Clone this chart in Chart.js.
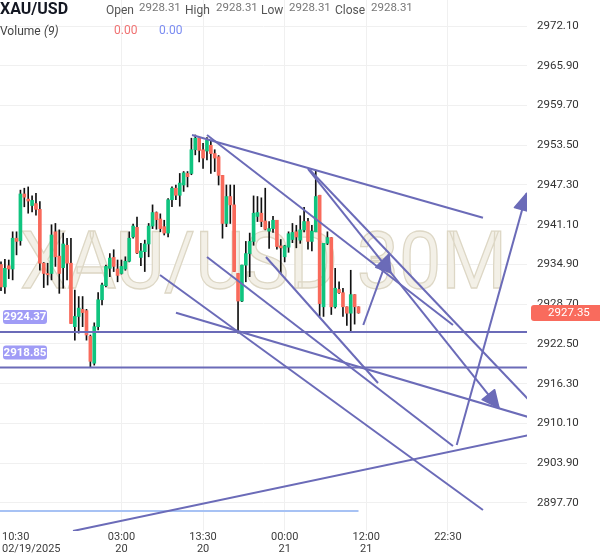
<!DOCTYPE html>
<html><head><meta charset="utf-8">
<script src="https://cdn.jsdelivr.net/npm/chart.js@4.4.1/dist/chart.umd.min.js"></script>
<style>html,body{margin:0;padding:0;background:#fff;}</style>
</head><body>
<canvas id="c" width="600" height="558"></canvas>
<script>
// ---- data (30-minute XAU/USD candles, bar index 0..92) ----
const opens  = [2934.9,2931.4,2934.7,2934.2,2939.0,2938.6,2945.9,2945.1,2944.1,2944.4,2943.5,2935.1,2933.5,2933.5,2940.0,2936.2,2934.4,2937.9,2935.1,2925.2,2926.8,2927.9,2927.7,2923.7,2919.5,2925.2,2929.4,2931.6,2934.3,2936.0,2934.2,2933.5,2934.2,2935.4,2939.2,2940.7,2936.0,2936.9,2938.1,2940.9,2943.0,2942.0,2940.8,2939.8,2945.0,2946.8,2945.7,2947.3,2949.1,2949.1,2952.8,2954.6,2952.8,2952.6,2953.5,2952.2,2951.7,2948.8,2941.3,2945.5,2944.2,2933.5,2929.2,2934.8,2936.6,2938.5,2942.4,2942.9,2941.7,2940.1,2940.5,2941.8,2937.8,2936.1,2937.6,2938.8,2940.0,2938.7,2940.3,2941.6,2938.5,2940.0,2945.7,2928.3,2938.2,2939.1,2928.3,2931.0,2930.5,2928.3,2927.3,2930.2,2928.3];
const highs  = [2935.3,2935.7,2935.6,2940.0,2940.0,2946.5,2946.8,2947.0,2945.6,2946.0,2944.7,2935.2,2935.1,2941.1,2941.3,2940.3,2939.8,2939.0,2939.0,2930.9,2929.9,2929.9,2927.9,2923.9,2925.8,2930.5,2932.0,2934.8,2936.6,2937.2,2935.6,2935.6,2936.1,2940.0,2941.2,2942.3,2938.2,2938.7,2941.3,2944.2,2943.1,2942.8,2941.8,2945.2,2947.0,2947.3,2949.1,2949.4,2949.4,2954.6,2955.1,2954.6,2953.8,2954.7,2954.1,2952.8,2951.9,2948.8,2947.3,2947.3,2947.3,2933.5,2934.8,2938.5,2939.8,2945.6,2945.5,2945.3,2946.8,2941.6,2942.4,2941.8,2938.8,2937.9,2940.0,2941.3,2941.0,2942.5,2943.8,2942.1,2941.0,2949.6,2945.7,2938.2,2940.0,2939.1,2934.3,2932.2,2931.2,2928.3,2934.0,2930.2,2928.3];
const lows   = [2930.8,2930.4,2932.7,2932.5,2936.4,2937.9,2943.9,2942.9,2943.1,2942.6,2934.0,2931.3,2931.7,2932.5,2934.6,2930.4,2931.2,2932.5,2925.7,2923.1,2924.2,2925.2,2923.1,2918.8,2919.2,2924.7,2928.6,2931.4,2933.0,2933.8,2932.2,2933.4,2934.0,2935.3,2939.0,2936.6,2934.7,2933.8,2936.1,2940.5,2940.4,2940.0,2939.5,2939.2,2943.9,2945.0,2944.0,2946.3,2947.0,2948.9,2952.0,2950.9,2949.9,2951.2,2949.1,2949.4,2947.3,2939.0,2940.8,2941.3,2933.8,2924.2,2929.1,2932.2,2933.0,2937.9,2941.6,2940.8,2940.3,2937.4,2939.9,2937.3,2933.5,2935.3,2936.8,2938.3,2937.5,2938.2,2940.0,2937.3,2937.0,2940.0,2926.8,2926.8,2938.0,2927.1,2928.1,2930.4,2926.8,2925.4,2924.4,2925.6,2927.3];
const closes = [2931.4,2934.3,2934.2,2939.0,2938.5,2945.9,2945.4,2944.8,2944.9,2943.5,2935.1,2933.5,2933.3,2939.5,2936.1,2933.5,2938.1,2935.1,2925.7,2926.8,2928.1,2927.4,2923.9,2919.8,2925.2,2929.4,2931.7,2934.6,2935.9,2934.6,2933.2,2934.6,2935.4,2939.0,2940.9,2936.7,2937.0,2938.1,2940.9,2943.0,2941.9,2940.5,2939.8,2945.0,2946.8,2945.7,2947.6,2949.2,2948.6,2952.8,2954.6,2952.7,2951.5,2954.3,2952.2,2951.5,2948.8,2941.3,2945.5,2944.2,2933.8,2929.2,2934.8,2936.6,2938.5,2942.9,2943.0,2941.6,2940.4,2940.5,2941.8,2937.7,2937.5,2937.8,2939.7,2939.9,2939.2,2940.3,2941.6,2938.5,2940.1,2945.5,2928.8,2938.2,2939.1,2928.3,2931.2,2930.5,2928.3,2927.3,2930.2,2928.3,2927.35];

const priceTicks = [2897.70,2903.90,2910.10,2916.30,2922.50,2928.70,2934.90,2941.10,2947.30,2953.50,2959.70,2965.90,2972.10];
const timeTickIndex  = [-2, 31, 52, 73, 94, 115];
const timeTickTop    = ['10:30','03:00','13:30','00:00','12:00','22:30'];
const timeTickBottom = ['02/19/2025','20','20','21','21',''];

const levelPrices = [2924.37, 2918.85];
const baselinePrice = 2896.45;
const lastPrice = 2927.35;
const headerValues = ['2928.31','2928.31','2928.31','2928.31'];

// drawn trend lines: [startIndex, startPrice, endIndex, endPrice, hasArrow]
const trendLines = [
  [49.15, 2955.10, 124.03, 2942.20, 0],
  [53.01, 2955.10, 116.31, 2925.46, 0],
  [79.50, 2949.64, 137.00, 2913.04, 0],
  [79.00, 2949.80, 128.15, 2912.52, 1],
  [40.92, 2933.26, 124.03, 2896.61, 0],
  [45.03, 2927.38, 137.00, 2910.87, 0],
  [53.01, 2936.07, 116.31, 2906.59, 0],
  [68.19, 2936.07, 97.02, 2916.41, 0],
  [18.53, 2893.33, 137.00, 2908.42, 0],
  [117.27, 2906.75, 135.28, 2946.01, 1],
  [93.23, 2925.46, 99.85, 2936.54, 1]
];

const UP = '#0fc47f', DOWN = '#f96a5b', LINE = '#6b6bb8';
const FONT = 'Roboto, "Liberation Sans", sans-serif';

const idx = opens.map((_, i) => i);
const datasets = [];
datasets.push({
  type: 'bar', order: 3, grouped: false, barThickness: 1,
  data: idx.map(i => ({x: i, y: [lows[i], highs[i]]})),
  backgroundColor: '#111', borderWidth: 0
});
datasets.push({
  type: 'bar', order: 2, grouped: false, barThickness: 3, minBarLength: 1,
  data: idx.map(i => ({x: i, y: [opens[i], closes[i]]})),
  backgroundColor: idx.map(i => closes[i] >= opens[i] ? UP : DOWN), borderWidth: 0
});
levelPrices.forEach(p => datasets.push({
  type: 'line', order: 1, data: [{x: -1, y: p}, {x: 137, y: p}],
  borderColor: LINE, borderWidth: 2, pointRadius: 0, fill: false
}));
datasets.push({
  type: 'line', order: 1, data: [{x: -1, y: baselinePrice}, {x: opens.length - 1, y: baselinePrice}],
  borderColor: '#a7c2f4', borderWidth: 2, pointRadius: 0, fill: false
});
trendLines.forEach(t => datasets.push({
  type: 'line', order: 0, data: [{x: t[0], y: t[1]}, {x: t[2], y: t[3]}],
  borderColor: LINE, borderWidth: 2, pointRadius: 0, fill: false
}));

function rr(ctx, x, y, w, h, r) {
  ctx.beginPath();
  ctx.moveTo(x + r, y); ctx.lineTo(x + w - r, y); ctx.quadraticCurveTo(x + w, y, x + w, y + r);
  ctx.lineTo(x + w, y + h - r); ctx.quadraticCurveTo(x + w, y + h, x + w - r, y + h);
  ctx.lineTo(x + r, y + h); ctx.quadraticCurveTo(x, y + h, x, y + h - r);
  ctx.lineTo(x, y + r); ctx.quadraticCurveTo(x, y, x + r, y); ctx.closePath();
}

const overlay = {
  id: 'overlay',
  beforeDatasetsDraw(chart) {
    const {ctx, chartArea: a} = chart;
    ctx.save();
    ctx.beginPath(); ctx.rect(a.left, a.top, a.right - a.left, a.bottom - a.top); ctx.clip();
    const txt = 'XAU/USD 30M';
    ctx.font = '80px ' + FONT;
    const w = ctx.measureText(txt).width;
    ctx.translate(20, 288);
    ctx.scale(487 / w, 1);
    ctx.fillStyle = '#f3f0e7';
    ctx.fillText(txt, 0, 0);
    ctx.strokeStyle = '#ddd7c5'; ctx.lineWidth = 1.3;
    ctx.strokeText(txt, 0, 0);
    ctx.restore();
  },
  afterDatasetsDraw(chart) {
    const {ctx, chartArea: a, scales: {x, y}} = chart;
    ctx.save();
    ctx.beginPath(); ctx.rect(a.left, a.top, a.right - a.left, a.bottom - a.top); ctx.clip();
    trendLines.forEach(t => {
      if (!t[4]) return;
      const x1 = x.getPixelForValue(t[0]), y1 = y.getPixelForValue(t[1]);
      const x2 = x.getPixelForValue(t[2]), y2 = y.getPixelForValue(t[3]);
      const ang = Math.atan2(y2 - y1, x2 - x1);
      const L = 17, W = 8;
      ctx.fillStyle = LINE; ctx.strokeStyle = LINE; ctx.lineWidth = 1.5; ctx.lineJoin = 'round';
      ctx.beginPath();
      ctx.moveTo(x2, y2);
      ctx.lineTo(x2 - L * Math.cos(ang) + W * Math.sin(ang), y2 - L * Math.sin(ang) - W * Math.cos(ang));
      ctx.lineTo(x2 - L * Math.cos(ang) - W * Math.sin(ang), y2 - L * Math.sin(ang) + W * Math.cos(ang));
      ctx.closePath(); ctx.fill(); ctx.stroke();
    });
    levelPrices.forEach(p => {
      const py = y.getPixelForValue(p);
      ctx.fillStyle = '#a09cf6';
      rr(ctx, 3, py - 22, 44, 14, 3); ctx.fill();
      ctx.fillStyle = '#fff'; ctx.font = 'bold 11.5px ' + FONT;
      ctx.textAlign = 'center'; ctx.textBaseline = 'middle';
      ctx.fillText(p.toFixed(2), 25, py - 14.5);
    });
    ctx.restore();
  },
  afterDraw(chart) {
    const {ctx, chartArea: a, scales: {x, y}} = chart;
    ctx.save();
    ctx.fillStyle = '#3c3c3c'; ctx.font = '11px ' + FONT; ctx.textBaseline = 'middle';
    timeTickIndex.forEach((v, k) => {
      const px = x.getPixelForValue(v);
      const w = Math.max(ctx.measureText(timeTickTop[k]).width, ctx.measureText(timeTickBottom[k]).width);
      if (px - w / 2 < 2) { ctx.textAlign = 'left'; ctx.fillText(timeTickTop[k], 2, 537); ctx.fillText(timeTickBottom[k], 2, 549); }
      else { ctx.textAlign = 'center'; ctx.fillText(timeTickTop[k], px, 537); ctx.fillText(timeTickBottom[k], px, 549); }
    });
    const py = y.getPixelForValue(lastPrice);
    ctx.fillStyle = '#f96b5d';
    rr(ctx, 531, py - 8, 75, 16, 3); ctx.fill();
    ctx.fillStyle = '#fff'; ctx.font = '11.5px ' + FONT; ctx.textAlign = 'left'; ctx.textBaseline = 'middle';
    ctx.fillText(lastPrice.toFixed(2), 548, py + 0.5);
    ctx.textBaseline = 'alphabetic';
    ctx.fillStyle = '#131722'; ctx.font = 'bold 16px ' + FONT;
    ctx.fillText('XAU/USD', 0, 14);
    const labs = ['Open', 'High', 'Low', 'Close'], lx = [106, 185, 261, 335], vx = [139, 216, 289, 371];
    labs.forEach((l, k) => {
      ctx.fillStyle = '#555'; ctx.font = '12px ' + FONT; ctx.fillText(l, lx[k], 14);
      ctx.fillStyle = '#777'; ctx.font = '11.5px ' + FONT; ctx.fillText(headerValues[k], vx[k], 10.5);
    });
    ctx.fillStyle = '#444'; ctx.font = '12px ' + FONT; ctx.fillText('Volume', 0, 34.5);
    ctx.font = 'italic 12px ' + FONT; ctx.fillText('(9)', 44, 34.5);
    ctx.font = '12px ' + FONT;
    ctx.fillStyle = '#f07272'; ctx.fillText('0.00', 114, 34);
    ctx.fillStyle = '#7b8cf2'; ctx.fillText('0.00', 159, 34);
    ctx.restore();
  }
};

new Chart(document.getElementById('c'), {
  data: {datasets},
  options: {
    responsive: false, animation: false,
    layout: {padding: 0},
    plugins: {legend: {display: false}, tooltip: {enabled: false}},
    scales: {
      x: {
        type: 'linear', min: -0.257, max: 135.36, position: 'bottom', offset: false,
        afterBuildTicks: s => { s.ticks = timeTickIndex.slice(1).map(v => ({value: v})); },
        afterFit: s => { s.height = 27; s.paddingLeft = 0; s.paddingRight = 0; },
        ticks: {display: false},
        grid: {color: '#f0f0f0', drawTicks: false, offset: false},
        border: {display: false}
      },
      y: {
        type: 'linear', position: 'right', min: 2893.33, max: 2976.156,
        afterBuildTicks: s => { s.ticks = priceTicks.map(v => ({value: v})); },
        afterFit: s => { s.width = 73; s.paddingTop = 0; s.paddingBottom = 0; },
        ticks: {padding: 10, color: '#333', font: {family: FONT, size: 11.5}, callback: v => Number(v).toFixed(2)},
        grid: {color: '#f0f0f0', drawTicks: false},
        border: {display: false}
      }
    }
  },
  plugins: [overlay]
});
</script>
</body></html>
